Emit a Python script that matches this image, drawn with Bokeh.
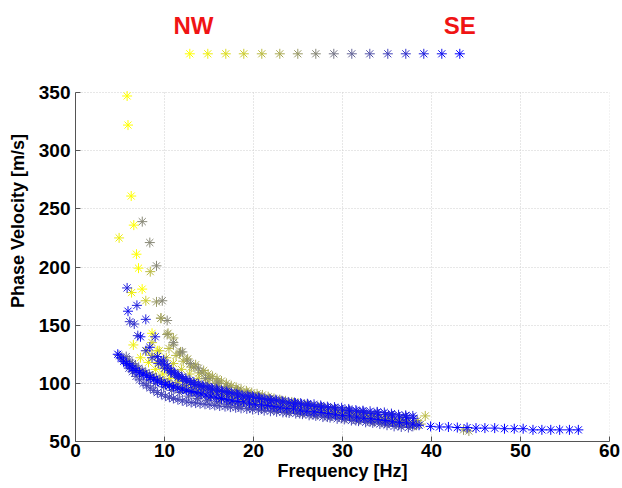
from bokeh.plotting import figure
from bokeh.models import Range1d, FixedTicker
from bokeh.embed import file_html
from bokeh.resources import INLINE
from bokeh.core.properties import value

# ---------------- data ----------------
x_ticks = [0, 10, 20, 30, 40, 50, 60]
y_ticks = [50, 100, 150, 200, 250, 300, 350]
legend_labels = ["NW", "SE"]
legend_index = list(range(16))

f00 = [5.8, 5.9, 6.26, 6.55, 6.85, 7.08, 7.49, 8.6, 9.2, 9.8, 10.5, 11.2, 12.0, 12.9, 13.8, 14.8, 15.8, 16.9, 18.0, 19.2, 20.4, 21.7, 23.0, 24.4, 25.8, 27.2, 28.7, 30.2, 31.7, 33.2]
v00 = [347, 322, 261, 236, 211, 199, 181, 143, 128, 117, 112, 108, 104, 101, 98, 95, 93, 91, 89, 87, 85, 84, 82, 80, 79, 77, 76, 74, 73, 71]
f01 = [4.9, 6.3, 6.5, 7.3, 8.2, 9.0, 9.8, 10.6, 11.5, 12.4, 13.3, 14.3, 15.3, 16.4, 17.5, 18.7, 19.9, 21.2, 22.5, 23.9, 25.3, 26.8, 28.3, 29.8, 31.4, 33.0, 34.6]
v01 = [225, 178, 133, 122, 118, 112, 108, 104, 101, 98, 96, 94, 92, 90, 88, 86, 84, 83, 81, 80, 78, 77, 75, 74, 72, 71, 70]
f02 = [8.0, 8.6, 9.3, 10.0, 10.8, 11.6, 12.5, 13.4, 14.4, 15.4, 16.5, 17.6, 18.8, 20.0, 21.3, 22.6, 24.0, 25.4, 26.9, 28.4, 30.0, 31.6, 33.2, 34.8, 36.4, 38.0]
v02 = [128, 124, 118, 113, 109, 105, 102, 99, 96, 94, 92, 89, 87, 85, 83, 81, 79, 78, 76, 74, 73, 71, 70, 68, 67, 66]
f02b = [18.2, 19.4, 20.65, 21.95, 23.3, 24.7, 26.15, 27.65, 29.2, 30.8, 32.4, 34.0, 35.6]
v02b = [88, 86, 84, 82, 80, 78.5, 77, 75, 73.5, 72, 70.5, 69, 67.5]
f03 = [7.9, 8.6, 9.4, 10.2, 11.0, 11.9, 12.8, 13.8, 14.8, 15.9, 17.0, 18.2, 19.4, 20.7, 22.0, 23.4, 24.8, 26.3, 27.8, 29.4, 31.0, 32.6, 34.2, 35.8, 37.4]
v03 = [171, 135, 128, 122, 117, 112, 108, 104, 100, 97, 94, 91, 89, 86, 84, 82, 80, 78, 76, 74, 72, 70, 68, 67, 65]
f04 = [8.4, 9.6, 10.5, 11.3, 12.1, 13.0, 13.9, 14.9, 15.9, 17.0, 18.1, 19.3, 20.5, 21.8, 23.1, 24.5, 25.9, 27.4, 28.9, 30.4, 32.0, 33.6, 35.2, 36.8, 38.4, 39.3]
v04 = [196, 156, 130, 124, 119, 114, 109, 105, 101, 97, 94, 92, 89, 87, 85, 83, 81, 79, 77, 75, 73, 72, 70, 69, 68, 72]
f05 = [10.4, 11.0, 11.8, 12.6, 13.5, 14.4, 15.4, 16.4, 17.5, 18.6, 19.8, 21.0, 22.3, 23.6, 25.0, 26.4, 27.9, 29.4, 31.0, 32.6, 34.2, 35.8, 37.4, 38.8]
v05 = [143, 139, 127, 121, 116, 111, 106, 102, 98, 95, 92, 90, 87, 85, 83, 81, 79, 77, 75, 73, 71, 69, 67, 65]
f05b = [14.9, 15.9, 16.95, 18.05, 19.2, 20.4, 21.65, 22.95, 24.3, 25.7, 27.15, 28.65, 30.2, 31.8, 33.4, 35.0, 36.6]
v05b = [108, 104, 100, 96.5, 93.5, 91, 88.5, 86, 84, 82, 80, 78, 76, 74, 72, 70, 68]
f06 = [9.1, 9.6, 10.3, 11.0, 11.7, 12.5, 13.3, 14.2, 15.1, 16.1, 17.1, 18.2, 19.3, 20.5, 21.7, 23.0, 24.3, 25.7, 27.1, 28.6, 30.1, 31.7, 33.3, 34.9, 36.5, 38.1, 43.6, 44.2]
v06 = [170, 156, 142, 133, 126, 120, 114, 109, 104, 100, 97, 94, 91, 89, 86, 84, 82, 80, 78, 76, 74, 72, 70, 68, 66, 64, 60, 59]
f07 = [7.5, 8.35, 9.1, 9.75, 10.3, 11.0, 12.0, 12.9, 13.8, 14.6, 15.9, 17.0, 18.2, 19.4, 20.7, 22.0, 23.4, 24.8, 26.3, 27.8, 29.3, 30.9, 32.5, 34.1, 35.7, 37.3]
v07 = [239, 221, 201, 171, 154, 135, 127, 117, 113, 104, 100, 96, 93, 90, 88, 85, 83, 81, 79, 77, 75, 73, 71, 69, 67, 65]
f08 = [4.9, 5.6, 6.3, 7.0, 7.8, 8.6, 9.4, 10.3, 11.2, 12.1, 13.1, 14.1, 15.2, 16.3, 17.5, 18.7, 20.0, 21.3, 22.7, 24.1, 25.6, 27.1, 28.7, 30.3, 31.9, 33.5, 35.1, 36.7, 38.3]
v08 = [124, 119, 115, 112, 109, 106, 103, 100, 97, 95, 93, 91, 89, 87, 85, 83, 81, 80, 78, 77, 75, 74, 72, 71, 69, 68, 66, 65, 64]
f09 = [5.7, 6.4, 7.1, 7.9, 8.7, 9.5, 10.4, 11.3, 12.2, 13.2, 14.2, 15.3, 16.4, 17.6, 18.8, 20.1, 21.4, 22.8, 24.2, 25.7, 27.2, 28.8, 30.4, 32.0, 33.6, 35.2, 36.8]
v09 = [123, 117, 113, 109, 106, 103, 100, 97, 95, 92, 90, 88, 86, 84, 83, 81, 79, 78, 76, 75, 73, 72, 70, 69, 67, 66, 65]
f09b = [6.05, 6.75, 7.5, 8.3, 9.1, 9.95, 10.85, 11.75, 12.7, 13.7, 14.75, 15.85, 17.0, 18.2, 19.45, 20.75, 22.1, 23.5, 24.95, 26.45, 28.0, 29.6, 31.2, 32.8, 34.4, 36.0]
v09b = [120, 115, 111, 107.5, 104.5, 101.5, 98.5, 96, 93.5, 91, 89, 87, 85, 83.5, 82, 80, 78.5, 77, 75.5, 74, 72.5, 71, 69.5, 68, 66.5, 65.5]
f10 = [5.2, 5.9, 6.6, 7.4, 8.2, 9.0, 9.9, 10.8, 11.7, 12.7, 13.7, 14.8, 15.9, 17.1, 18.3, 19.6, 20.9, 22.3, 23.7, 25.2, 26.7, 28.3, 29.9, 31.5, 33.1, 34.7, 36.3, 37.9]
v10 = [121, 116, 111, 107, 103, 100, 97, 94, 92, 89, 87, 85, 83, 82, 80, 79, 78, 77, 75, 74, 73, 71, 70, 68, 67, 66, 64, 63]
f11 = [6.0, 6.8, 7.6, 8.4, 9.2, 10.1, 11.0, 12.0, 13.0, 14.0, 15.1, 16.2, 17.4, 18.6, 19.9, 21.2, 22.6, 24.0, 25.5, 27.0, 28.6, 30.2, 31.8, 33.4, 35.0, 36.6]
v11 = [113, 106, 100, 96, 92, 89, 87, 85, 83.5, 82.5, 81.5, 80.5, 79.5, 78.5, 77.5, 76.5, 75.5, 74.5, 73.5, 72, 70.5, 69, 67.5, 66, 64, 62.5]
f11b = [6.4, 7.2, 8.0, 8.8, 9.65, 10.55, 11.5, 12.5, 13.5, 14.55, 15.65, 16.8, 18.0, 19.25, 20.55, 21.9, 23.3, 24.75, 26.25, 27.8, 29.4, 31.0, 32.6, 34.2, 35.8, 37.4]
v11b = [110, 103, 98, 94, 90.5, 88, 86, 84, 83, 82, 81, 80, 79, 78, 77, 76, 75, 74, 72.5, 71, 69.5, 68, 66.5, 65, 63, 62]
f12 = [6.1, 6.6, 7.0, 7.9, 8.6, 9.3, 10.0, 10.7, 11.5, 12.3, 13.2, 14.1, 15.1, 16.1, 17.2, 18.3, 19.5, 20.7, 22.0, 23.3, 24.7, 26.1, 27.6, 29.1, 30.7, 32.3, 33.9, 35.5, 37.1]
v12 = [153, 151, 141, 128, 122, 117, 113, 109, 105, 102, 99, 97, 95, 93, 91, 90, 88, 87, 85, 84, 83, 82, 80, 79, 77, 76, 75, 73, 72]
f13 = [5.8, 6.9, 7.9, 8.95, 9.9, 10.7, 11.5, 12.4, 13.3, 14.3, 15.3, 16.4, 17.5, 18.7, 19.9, 21.2, 22.5, 23.9, 25.3, 26.8, 28.3, 29.9, 31.5, 33.1, 34.7, 36.3, 37.9]
v13 = [182, 167, 155, 140, 120, 111, 107, 104, 101, 98, 96, 94, 92, 90, 89, 87, 86, 84, 83, 82, 80, 79, 77, 76, 75, 73, 72]
f13b = [10.3, 11.1, 11.95, 12.85, 13.8, 14.8, 15.85, 16.95, 18.1, 19.3, 20.55, 21.85, 23.2, 24.6, 26.05, 27.55, 29.1, 30.7, 32.3, 33.9, 35.5, 37.1]
v13b = [115, 109, 105.5, 102.5, 99.5, 97, 95, 93, 91, 89.5, 88, 86.5, 85, 83.5, 82.5, 81, 79.5, 78, 76.5, 75.5, 74, 72.5]
f14 = [5.9, 7.3, 8.35, 9.2, 10.0, 10.8, 11.6, 12.5, 13.4, 14.4, 15.4, 16.5, 17.6, 18.8, 20.0, 21.3, 22.6, 24.0, 25.4, 26.9, 28.4, 30.0, 31.6, 33.2, 34.8, 36.4, 38.0]
v14 = [162, 140, 131, 123, 116, 110, 106, 102, 99, 97, 95, 93, 91, 89, 88, 86, 85, 83, 82, 80, 79, 77, 76, 74, 73, 71, 70]
f14b = [9.6, 10.4, 11.2, 12.05, 12.95, 13.9, 14.9, 15.95, 17.05, 18.2, 19.4, 20.65, 21.95, 23.3, 24.7, 26.15, 27.65, 29.2, 30.8, 32.4, 34.0, 35.6, 37.2]
v14b = [119, 113, 108, 104, 100.5, 98, 96, 94, 92, 90, 88.5, 87, 85.5, 84, 82.5, 81, 79.5, 78, 76.5, 75, 73.5, 72, 70.5]
f15 = [4.75, 5.4, 6.1, 6.8, 7.6, 8.4, 9.2, 10.1, 11.0, 12.0, 13.0, 14.1, 15.2, 16.4, 17.6, 18.9, 20.2, 21.6, 23.0, 24.5, 26.0, 27.6, 29.2, 30.8, 32.4, 34.0, 35.6, 37.2, 38.6, 39.9, 40.9, 41.9, 42.9, 44.0, 45.0, 46.0, 47.1, 48.2, 49.3, 50.3, 51.4, 52.4, 53.4, 54.4, 55.5, 56.5]
v15 = [125, 119, 115, 111, 108, 105, 102, 99, 97, 95, 93, 91, 89, 87, 85, 84, 82, 81, 79, 78, 76, 75, 73, 72, 70, 69, 67, 66, 64, 63, 62.5, 62.5, 62, 62, 61.5, 61.5, 61.5, 61, 61, 61, 60, 60, 60, 60, 60, 60]
f15b = [5.1, 5.75, 6.45, 7.2, 8.0, 8.8, 9.65, 10.55, 11.5, 12.5, 13.55, 14.65, 15.8, 17.0, 18.25, 19.55, 20.9, 22.3, 23.75, 25.25, 26.8, 28.4, 30.0, 31.6, 33.2, 34.8, 36.4, 37.9]
v15b = [122, 117, 113, 109.5, 106.5, 103.5, 100.5, 98, 96, 94, 92, 90, 88, 86, 84.5, 83, 81.5, 80, 78.5, 77, 75.5, 74, 72.5, 71, 69.5, 68, 66.5, 65]

# each profile (NW -> SE) may hold a second pick set
profiles = [
    [(f00, v00)],
    [(f01, v01)],
    [(f02, v02), (f02b, v02b)],
    [(f03, v03)],
    [(f04, v04)],
    [(f05, v05), (f05b, v05b)],
    [(f06, v06)],
    [(f07, v07)],
    [(f08, v08)],
    [(f09, v09), (f09b, v09b)],
    [(f10, v10)],
    [(f11, v11), (f11b, v11b)],
    [(f12, v12)],
    [(f13, v13), (f13b, v13b)],
    [(f14, v14), (f14b, v14b)],
    [(f15, v15), (f15b, v15b)],
]

# ---------------- styles / layout ----------------
def mix(t):
    r = round(255 * (1 - t))
    b = round(255 * t)
    return "#%02x%02x%02x" % (r, r, b)

colors = [mix(i / 15) for i in range(16)]
FONT = "Liberation Sans"

W, H = 622, 488
BL, BR, BT, BB = 75, 13, 0, 47
FW, FH = W - BL - BR, H - BT - BB        # frame 534 x 441 px
PX_PER_V = 349 / 300                      # 50..350 spans 349 px
y_top = y_ticks[0] + FH / PX_PER_V        # frame also holds the colour key above 350

p = figure(width=W, height=H, x_range=Range1d(x_ticks[0], x_ticks[-1]),
           y_range=Range1d(y_ticks[0], y_top),
           output_backend="svg", toolbar_location=None,
           min_border_left=BL, min_border_right=BR, min_border_top=BT, min_border_bottom=BB)
p.outline_line_color = None
p.background_fill_color = "white"

# key ranges: 18 px per key step; pixel rows above the x axis
p.extra_x_ranges = {"key": Range1d(-114.3 / 18, -114.3 / 18 + FW / 18)}
p.extra_y_ranges = {"key": Range1d(0, FH)}

p.xaxis.ticker = FixedTicker(ticks=x_ticks)
p.yaxis.ticker = FixedTicker(ticks=y_ticks)
p.yaxis.bounds = (y_ticks[0], y_ticks[-1])
for ax in (p.xaxis[0], p.yaxis[0]):
    ax.axis_line_color = "#555555"
    ax.major_tick_line_color = "#555555"
    ax.major_tick_in = 5
    ax.major_tick_out = 0
    ax.minor_tick_line_color = None
    ax.major_label_text_font = FONT
    ax.major_label_text_font_style = "bold"
    ax.major_label_text_font_size = "19px"
    ax.major_label_text_color = "black"
    ax.axis_label_text_font = FONT
    ax.axis_label_text_font_style = "bold"
    ax.axis_label_text_font_size = "18px"
    ax.axis_label_text_color = "black"
p.xaxis.axis_label = "Frequency [Hz]"
p.yaxis.axis_label = "Phase Velocity [m/s]"
p.xaxis.major_label_standoff = 2
p.xaxis.axis_label_standoff = 1
p.yaxis.major_label_standoff = 5
p.yaxis.axis_label_standoff = 8

# grid: horizontal lines via built-in grid, vertical ones limited to 50..350
p.xgrid.grid_line_color = None
p.ygrid.grid_line_color = "#cfcfcf"
p.ygrid.grid_line_dash = "1 2"
p.segment(x0=x_ticks, y0=[y_ticks[0]] * len(x_ticks), x1=x_ticks, y1=[y_ticks[-1]] * len(x_ticks),
          line_color="#cfcfcf", line_dash="1 2", line_width=1)

for picks, c in zip(profiles, colors):
    for f, v in picks:
        p.scatter(x=f, y=v, marker="asterisk", size=10, line_color=c, line_width=1)

# colour key NW -> SE
p.scatter(x=legend_index, y=[387.7] * 16, marker="asterisk", size=10, line_color=colors, line_width=1,
          x_range_name="key", y_range_name="key")
p.text(x=[0.2, 15], y=[416, 416], text=legend_labels, text_font=value(FONT), text_font_style="bold",
       text_font_size="24px", text_color="#f01414", text_align="center", text_baseline="alphabetic",
       x_range_name="key", y_range_name="key")

open("out.html", "w").write(file_html(p, INLINE))
